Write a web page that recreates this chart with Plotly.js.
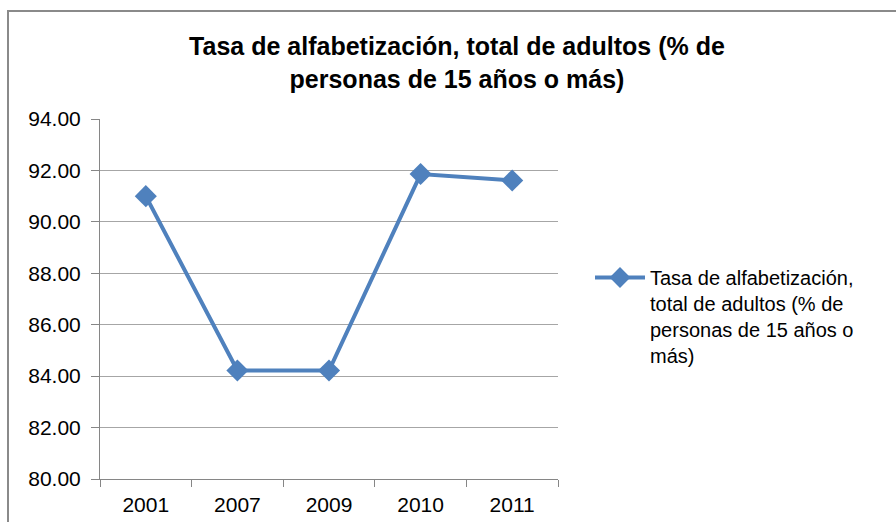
<!DOCTYPE html>
<html>
<head>
<meta charset="utf-8">
<script src="https://cdn.plot.ly/plotly-3.0.1.min.js"></script>
<style>
  html, body { margin: 0; padding: 0; background: #fff; }
  #wrap { position: relative; width: 896px; height: 522px; overflow: hidden; }
  #chart { position: absolute; left: 0; top: 0; width: 896px; height: 522px; }
  #frame { position: absolute; left: 7px; top: 10px; width: 920px; height: 540px;
           border: 2px solid #8a8a8a; pointer-events: none; }
</style>
</head>
<body>
<div id="wrap">
  <div id="chart"></div>
  <div id="frame"></div>
</div>
<script>
const years = ["2001", "2007", "2009", "2010", "2011"];
const literacy = [91.0, 84.22, 84.22, 91.86, 91.61];
const seriesName = "Tasa de alfabetización,<br>total de adultos (% de<br>personas de 15 años o<br>más)";
const titleText = "Tasa de alfabetización, total de adultos (% de<br>personas de 15 años o más)";
const yTicks = [80, 82, 84, 86, 88, 90, 92, 94];

const font = "Arial, 'Liberation Sans', sans-serif";

const trace = {
  type: "scatter",
  mode: "lines+markers",
  x: years,
  y: literacy,
  name: seriesName,
  line: { color: "#4F81BD", width: 4 },
  marker: { symbol: "diamond", size: 17, color: "#4F81BD" },
  showlegend: true
};

const layout = {
  width: 896,
  height: 522,
  margin: { l: 100, r: 338, t: 119, b: 43, pad: 0 },
  paper_bgcolor: "#ffffff",
  plot_bgcolor: "#ffffff",
  font: { family: font, size: 21, color: "#000000" },
  title: {
    text: titleText,
    font: { family: font, size: 25, color: "#000000", weight: "bold" },
    x: 457 / 896,
    xanchor: "center",
    xref: "container",
    y: 1 - 55 / 522,
    yanchor: "middle",
    yref: "container"
  },
  xaxis: {
    type: "category",
    categoryorder: "array",
    categoryarray: years,
    range: [-0.5, 4.5],
    showline: true,
    linecolor: "#868686",
    linewidth: 1,
    showgrid: false,
    ticks: "outside",
    tickson: "boundaries",
    ticklen: 7,
    tickcolor: "#868686",
    tickfont: { family: font, size: 21, color: "#000000" },
    ticklabelstandoff: 7,
    zeroline: false,
    fixedrange: true
  },
  yaxis: {
    range: [80, 94],
    tickvals: yTicks,
    ticktext: yTicks.map(v => v.toFixed(2)),
    showline: true,
    linecolor: "#868686",
    linewidth: 1,
    showgrid: true,
    gridcolor: "#a6a6a6",
    gridwidth: 1,
    ticks: "outside",
    ticklen: 8,
    tickcolor: "#868686",
    tickfont: { family: font, size: 21, color: "#000000" },
    ticklabelstandoff: 6,
    zeroline: false,
    fixedrange: true
  },
  legend: {
    x: (590 - 100) / 458,
    xanchor: "left",
    y: 1 - (258 - 119) / (522 - 119 - 43),
    yanchor: "top",
    valign: "top",
    bgcolor: "rgba(0,0,0,0)",
    font: { family: font, size: 20, color: "#000000" },
    itemwidth: 50
  },
  showlegend: true
};

Plotly.newPlot("chart", [trace], layout, { displayModeBar: false, staticPlot: true });
</script>
</body>
</html>
